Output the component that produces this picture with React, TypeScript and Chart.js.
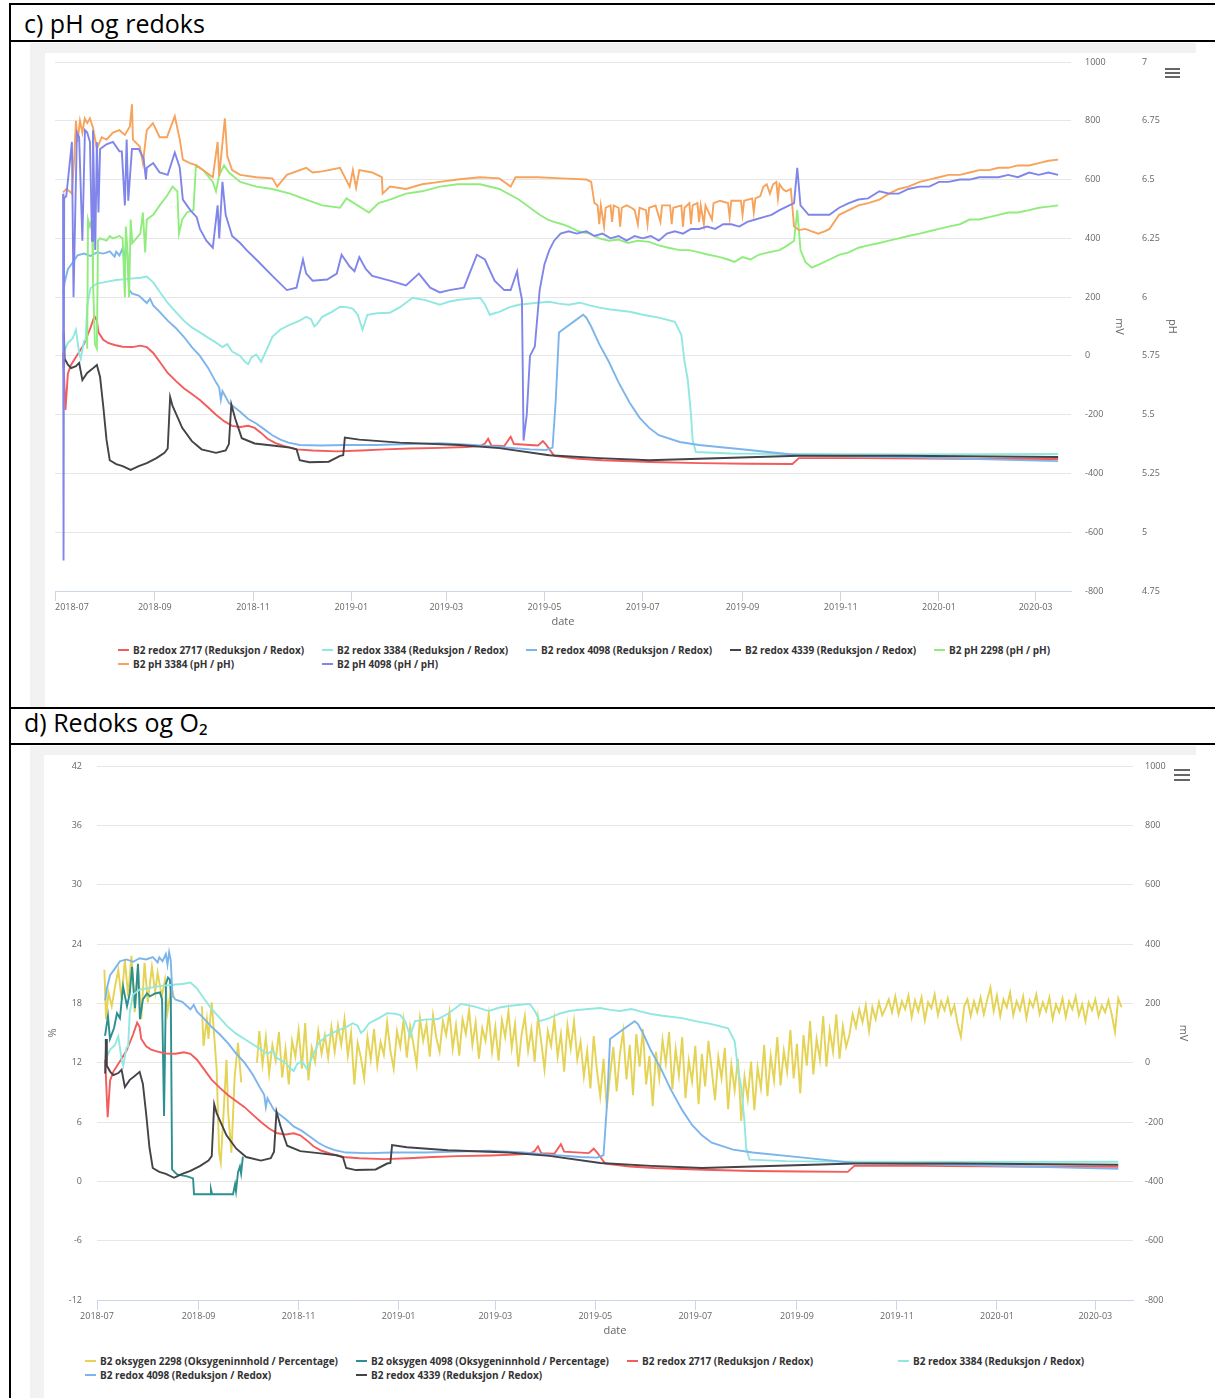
import React, { useEffect, useRef } from 'react';
import { Chart, registerables } from 'chart.js';

Chart.register(...registerables);
Chart.defaults.font.family = "'Open Sans', sans-serif";

type Pt = [number, number | null];

// x values are days since 2018-07-01
const START_UTC = Date.UTC(2018, 6, 1);
const xTickLabels = ['2018-07', '2018-09', '2018-11', '2019-01', '2019-03', '2019-05', '2019-07', '2019-09', '2019-11', '2020-01', '2020-03'];
const X_MAX_C = 631;
const X_MAX_D = 632;

// ---------- chart c) pH og redoks ----------
const redox2717: Pt[] = [[5,10],[6.5,-184],[8,-60],[10,-30],[14,5],[18,40],[22,95],[24.5,135],[26,120],[27,80],[30,55],[33,44],[37,37],[42,31],[48,30],[53,35],[57,30],[61,10],[65,-20],[70,-58],[75,-85],[80,-110],[85,-130],[90,-150],[95,-175],[100,-200],[105,-222],[110,-238],[115,-242],[120,-238],[124,-245],[128,-262],[132,-282],[137,-297],[142,-306],[150,-318],[160,-322],[175,-325],[190,-322],[205,-318],[220,-315],[240,-313],[255,-310],[264,-307],[267,-298],[269,-282],[271,-305],[279,-307],[283,-275],[285,-300],[300,-305],[303,-290],[305,-302],[310,-340],[325,-350],[340,-355],[370,-361],[400,-365],[430,-367],[458,-368],[462,-348],[500,-348],[560,-350],[623,-351]];

const redox3384: Pt[] = [[5,78],[6,20],[8,44],[11,60],[13,89],[15,10],[16,-10],[17,20],[18,50],[19,54],[20,170],[22,230],[26,246],[30,250],[38,258],[45,262],[53,266],[57,270],[61,250],[65,218],[70,180],[75,150],[80,120],[85,97],[90,80],[95,62],[100,45],[104,30],[107,40],[110,15],[115,0],[118,-20],[120,-28],[122,-5],[125,5],[128,-20],[131,15],[135,65],[140,90],[146,106],[152,120],[156,133],[159,125],[161,100],[163,110],[166,133],[172,150],[177,167],[182,165],[185,160],[188,140],[191,89],[194,140],[200,145],[208,147],[214,165],[218,181],[222,198],[230,190],[239,174],[245,185],[251,191],[258,195],[264,198],[267,175],[270,140],[273,145],[276,150],[282,165],[288,174],[298,180],[307,184],[313,178],[319,174],[326,181],[332,172],[338,164],[345,158],[357,150],[365,140],[375,130],[385,116],[389,72],[391,-20],[393,-82],[395,-200],[396,-286],[398,-327],[420,-332],[462,-334],[530,-335],[623,-334]];

const redox4098: Pt[] = [[5,210],[6,250],[8,295],[11,318],[14,342],[18,348],[22,340],[26,352],[30,348],[34,356],[37,338],[38,355],[40,342],[42,366],[43,330],[44,372],[45,345],[46,225],[48,212],[52,205],[55,190],[57,180],[59,195],[61,172],[65,150],[70,120],[75,95],[80,65],[85,30],[90,0],[95,-40],[100,-90],[102,-108],[103,-150],[104,-120],[108,-160],[115,-190],[120,-215],[125,-230],[130,-250],[135,-270],[140,-285],[145,-295],[152,-303],[165,-305],[180,-303],[200,-303],[220,-300],[239,-297],[260,-303],[276,-310],[295,-318],[305,-320],[309,-312],[311,-150],[313,80],[318,100],[323,120],[328,140],[330,130],[333,100],[338,40],[344,-20],[350,-90],[357,-160],[363,-210],[369,-245],[375,-270],[388,-293],[400,-303],[431,-320],[462,-338],[524,-344],[623,-358]];

const redox4339: Pt[] = [[5,-37],[5.5,80],[6,-10],[8,-30],[10,-42],[13,-35],[15,-24],[17,-82],[20,-58],[23,-45],[26,-31],[28,-72],[30,-173],[32,-286],[34,-355],[38,-368],[42,-375],[47,-388],[52,-375],[57,-365],[63,-348],[68,-330],[70,-315],[71.5,-140],[73,-170],[75,-195],[79,-245],[85,-290],[91,-318],[100,-330],[106,-322],[108,-300],[109.5,-165],[112,-215],[116,-280],[124,-298],[135,-305],[146,-312],[150,-318],[152,-355],[158,-362],[170,-360],[177,-340],[179,-338],[180,-278],[189,-285],[214,-295],[251,-303],[276,-314],[307,-338],[338,-348],[369,-355],[400,-350],[462,-340],[524,-340],[623,-344]];

const ph2298: Pt[] = [[20,5.78],[20.5,6.33],[21.7,6.30],[23,6.33],[23.6,6.07],[24.8,5.80],[26,5.78],[26.7,6.24],[28,6.25],[32,6.24],[34,6.26],[36,6.25],[40,6.26],[42,6.25],[43.4,6.00],[44,6.30],[45,6.20],[46,6.00],[47,6.33],[48,6.23],[53,6.27],[54.6,6.36],[56,6.19],[57,6.33],[61,6.35],[65,6.39],[69.5,6.43],[73,6.47],[76,6.45],[77,6.27],[79,6.33],[82,6.36],[86,6.37],[87.5,6.56],[92,6.54],[98,6.49],[100,6.45],[102,6.52],[105,6.56],[108,6.53],[115,6.49],[125,6.47],[135,6.46],[146,6.44],[156,6.415],[166,6.39],[177,6.38],[181,6.42],[195,6.36],[201,6.40],[208,6.415],[218,6.44],[228,6.45],[239,6.47],[250,6.48],[264,6.48],[276,6.46],[288,6.415],[301,6.35],[306,6.33],[310,6.32],[315,6.31],[319,6.30],[325,6.28],[332,6.27],[338,6.25],[344,6.24],[350,6.245],[356,6.23],[362,6.24],[369,6.235],[375,6.22],[381,6.21],[388,6.20],[394,6.20],[400,6.19],[406,6.18],[413,6.17],[418,6.16],[422,6.15],[427,6.17],[432,6.16],[437,6.18],[443,6.19],[450,6.20],[455,6.22],[459,6.24],[461,6.37],[463,6.20],[466,6.15],[470,6.125],[475,6.14],[481,6.16],[487,6.18],[493,6.19],[499,6.21],[505,6.22],[512,6.23],[518,6.24],[524,6.25],[530,6.26],[537,6.27],[543,6.28],[549,6.29],[555,6.30],[562,6.31],[568,6.33],[574,6.33],[580,6.34],[586,6.35],[592,6.36],[598,6.36],[605,6.37],[611,6.38],[617,6.385],[623,6.39]];

const ph3384: Pt[] = [[5,6.445],[7,6.46],[9,6.45],[10.5,6.44],[12,6.60],[13,6.75],[14,6.66],[15.5,6.75],[17,6.70],[18.5,6.76],[20,6.74],[21.7,6.76],[23.6,6.72],[26,6.63],[29,6.68],[32,6.67],[36,6.70],[40,6.71],[43.4,6.69],[46.5,6.726],[47.8,6.82],[48.4,6.67],[52.7,6.64],[54.6,6.57],[57,6.71],[60.8,6.74],[65,6.68],[69.5,6.68],[74.4,6.77],[77.5,6.67],[79.4,6.585],[83.7,6.57],[88,6.56],[94,6.53],[98,6.51],[101,6.66],[102,6.515],[105.5,6.76],[107,6.60],[110,6.54],[115,6.52],[125,6.51],[135,6.505],[138,6.47],[144,6.52],[156,6.55],[160,6.53],[166,6.535],[177,6.55],[183,6.47],[185,6.54],[187,6.465],[189,6.54],[197,6.53],[203,6.51],[203.5,6.44],[208,6.47],[218,6.46],[228,6.48],[239,6.49],[250,6.50],[264,6.51],[276,6.505],[283,6.47],[286,6.51],[300,6.51],[315,6.505],[330,6.50],[333,6.49],[335,6.40],[337,6.39],[338,6.31],[339,6.39],[341,6.30],[342,6.38],[345,6.39],[346,6.32],[347,6.39],[350,6.38],[351,6.30],[352,6.38],[355,6.39],[358,6.38],[360,6.37],[362,6.31],[363,6.38],[367,6.37],[368,6.31],[369,6.38],[373,6.39],[376,6.32],[377,6.39],[382,6.39],[383,6.31],[384,6.38],[389,6.39],[390,6.30],[391,6.38],[394,6.40],[395,6.31],[396,6.39],[399,6.40],[400,6.32],[401,6.39],[403,6.31],[404,6.39],[408,6.33],[409,6.40],[413,6.41],[418,6.40],[419,6.34],[420,6.41],[426,6.41],[427,6.35],[428,6.41],[433,6.42],[434,6.36],[435,6.42],[438,6.43],[440,6.47],[442,6.48],[444,6.44],[446,6.48],[448,6.49],[449,6.42],[450,6.48],[452,6.46],[454,6.45],[457,6.46],[459,6.30],[462,6.285],[466,6.29],[470,6.28],[474,6.27],[478,6.28],[481,6.29],[484,6.32],[487,6.35],[493,6.37],[499,6.39],[505,6.40],[512,6.415],[518,6.44],[524,6.46],[530,6.47],[537,6.49],[543,6.50],[549,6.51],[555,6.52],[562,6.52],[568,6.53],[574,6.54],[580,6.54],[586,6.55],[592,6.55],[598,6.56],[605,6.56],[611,6.57],[617,6.58],[623,6.585]];

const ph4098: Pt[] = [[5,6.44],[5.3,4.88],[5.7,6.42],[7,6.43],[9,6.56],[10.5,6.66],[11.5,6.0],[13.6,6.70],[15,6.68],[17,6.24],[18.6,6.71],[20,6.70],[21.7,6.66],[23,6.24],[23.6,6.71],[25,6.20],[26,6.66],[27,6.36],[28,6.63],[32,6.65],[36,6.66],[40,6.62],[41.5,6.62],[43.4,6.39],[44.5,6.67],[45.5,6.41],[47.8,6.63],[52,6.63],[55,6.59],[56.5,6.50],[57,6.55],[61,6.57],[65,6.53],[70,6.52],[74.4,6.615],[77.5,6.55],[79.4,6.415],[84,6.37],[88,6.34],[90,6.29],[94,6.24],[98,6.21],[101,6.39],[102,6.25],[104,6.49],[106,6.35],[110,6.26],[115,6.23],[119,6.20],[125,6.16],[135,6.09],[144,6.03],[150,6.04],[154,6.16],[156,6.10],[160,6.07],[169,6.075],[175,6.10],[178,6.18],[183,6.13],[186,6.11],[189,6.17],[193,6.12],[197,6.09],[208,6.07],[218,6.05],[226,6.10],[233,6.04],[239,6.02],[245,6.03],[254,6.04],[262,6.18],[267,6.16],[273,6.07],[279,6.03],[283,6.03],[287,6.11],[288,6.06],[290,5.99],[291,5.39],[293,5.50],[295,5.75],[298,5.79],[301,6.03],[304,6.14],[307,6.20],[310,6.24],[314,6.27],[319,6.28],[324,6.27],[330,6.28],[335,6.26],[340,6.27],[345,6.25],[350,6.26],[355,6.24],[360,6.26],[365,6.25],[370,6.26],[375,6.24],[380,6.27],[385,6.28],[390,6.27],[395,6.29],[400,6.29],[405,6.30],[410,6.29],[415,6.31],[420,6.31],[425,6.30],[430,6.32],[435,6.33],[440,6.34],[445,6.35],[450,6.37],[456,6.39],[459,6.40],[461,6.55],[463,6.39],[468,6.35],[474,6.35],[481,6.35],[487,6.38],[493,6.40],[499,6.415],[505,6.42],[512,6.45],[518,6.44],[524,6.44],[530,6.46],[537,6.47],[543,6.47],[549,6.49],[555,6.49],[562,6.50],[568,6.50],[574,6.51],[580,6.51],[586,6.51],[592,6.52],[598,6.51],[605,6.53],[611,6.52],[617,6.53],[623,6.52]];

// ---------- chart d) Redoks og O2 ----------
const oksygen2298: Pt[] = [[4.5,21.4],[5.5,16.4],[7,19.1],[9,17.7],[11,19.7],[13,21.4],[15,18.4],[17,22.4],[19,18.7],[21,22.8],[23,17.1],[25,21.7],[27,16.4],[29,22.1],[31,18.1],[33.5,21.7],[35.5,19.1],[37,21.1],[39.5,18.7],[41.5,20.4],[43,17.1],[45.5,19.7],[47,18.5],[55,null],[64,17.7],[65,13.7],[67,16.4],[68,14.4],[70,18.1],[71.5,14.7],[73,11.3],[74.5,2.9],[75.5,1.9],[77,6.3],[79,12.3],[80,7],[82,2.9],[84,10.6],[86,14],[88,10],[92,null],
[97.6,12],[99,15.2],[101,11.8],[103,14.6],[105,10.9],[107,13.8],[109,12.2],[111,15.1],[113,10.5],[115,13.4],[117,9.8],[119,14.2],[121,12.6],[123,15.3],[125,11.4],[127,16],[129,10.2],[131,13.5],[133,12.1],[135,15.2],[137,12.9],[139,14.8],[141,12.5],[143,15.6],[145,13.1],[147,15.8],[149,13.8],[151,16.4],[153,12.7],[155,15],[157,9.8],[159,14],[161,12.5],[163,10.4],[165,14.6],[167,12.3],[169,15.4],[171,11.7],[173,14.1],[175,12.8],[177,16.1],[179,13.2],[181,11.4],[183,15.2],[185,13.6],[187,16.3],[189,12.5],[191,15.7],[193,13.9],[195,11.8],[197,16.5],[199,14.2],[201,15.9],[203,12.6],[205,16.8],[207,14.5],[209,13.1],[211,16.2],[213,14.8],[215,17.1],[217,13.4],[219,15.8],[221,12.7],[223,16.4],[225,14.9],[227,17.3],[229,13.8],[231,16.1],[233,12.4],[235,15.5],[237,14.2],[239,16.9],[241,13.1],[243,15.6],[245,12.2],[247,16.3],[249,14.6],[251,17.2],[253,13.5],[255,15.9],[257,11.6],[259,14.8],[261,16.7],[263,13.2],[265,15.4],[267,12.1],[269,16.6],[271,14.1],[273,11.3],[275,15.2],[277,13.7],[279,16.4],[281,12.6],[283,14.9],[285,11.1],[287,15.8],[289,13.4],[291,16.2],[293,12.3],[295,14.1],[297,10.6],[299,13.2],[301,9.4],[303,14.7],[305,11.2],[307,8.6],[309,12.4],[311,7.4],[313,10.8],[315,13.6],[317,9.1],[319,12.9],[321,15.2],[323,10.3],[325,13.8],[327,8.7],[329,14.9],[331,11.6],[333,15.4],[335,9.8],[337,12.7],[339,7.6],[341,13.1],[343,10.4],[345,14.3],[347,11.9],[349,15.1],[351,9.3],[353,13.4],[355,10.7],[357,14.6],[359,8.4],[361,12.2],[363,10.1],[365,13.7],[367,7.8],[369,12.9],[371,9.6],[373,14.2],[375,11.3],[377,8.2],[379,12.6],[381,10.4],[383,13.5],[385,7.3],[387,11.8],[389,9.2],[391,12.4],[393,6.1],[395,10.6],[397,8.3],[399,12.1],[401,7.2],[403,11.5],[405,9.4],[407,13.8],[409,8.6],[411,12.7],[413,10.2],[415,14.6],[417,9.7],[419,13.2],[421,11.1],[423,15.3],[425,10.4],[427,13.9],[429,8.9],[431,14.8],[433,11.7],[435,16.2],[437,10.8],[439,14.4],[441,12.3],[443,16.7],[445,11.6],[447,15.3],[449,13.1],[451,16.9],[453,12.4],[455,15.7],[457,13.6],[459,14.8],[461,16.9],[463,15.6],[465,17.4],[467,16.1],[469,17.8],[471,15.2],[473,17.6],[475,16.4],[477,18.1],[479,16.8],[481,17.5],[483,18.4],[485,17.1],[487,18.7],[489,16.9],[491,18.2],[493,17.4],[495,18.8],[497,16.6],[499,18.3],[501,17.2],[503,18.6],[505,16.3],[507,18.1],[509,17.5],[511,18.9],[513,16.8],[515,18.2],[517,17.3],[519,18.5],[521,16.9],[523,17.8],[525,15.9],[527,14.6],[529,17.7],[531,18.4],[533,16.7],[535,18.2],[537,17.1],[539,18.6],[541,16.9],[543,18.3],[545,19.6],[547,17.2],[549,18.8],[551,16.7],[553,18.4],[555,17.6],[557,19.1],[559,16.8],[561,18.2],[563,17.3],[565,18.7],[567,16.5],[569,18.3],[571,17.6],[573,18.9],[575,16.9],[577,18.1],[579,17.2],[581,18.6],[583,16.4],[585,17.9],[587,17.1],[589,18.5],[591,16.6],[593,18.2],[595,17.4],[597,18.7],[599,16.8],[601,17.9],[603,16.2],[605,18.1],[607,17.3],[609,18.4],[611,16.7],[613,17.8],[615,17.1],[617,18.3],[619,16.9],[621,15.1],[623,18.5],[625,17.6]];

const oksygen4098: Pt[] = [[4.9,14.7],[6.7,16.7],[7.9,14.4],[10.4,15.5],[12.2,17],[14,16.5],[15.9,19.7],[18.3,17.7],[20,19],[21.4,21.7],[23.2,17.5],[25,22],[26.2,16.4],[28,18.4],[30.5,19],[32.3,18.7],[35.4,19],[38.4,19.1],[39.7,18.4],[40.9,6.6],[42.1,20],[43.3,20.6],[44.5,20.4],[45,19],[45.8,1.2],[48.8,0.7],[55,0.5],[58.6,0.3],[59.2,-1.3],[69,-1.3],[69.5,-0.8],[70.2,-1.3],[83,-1.3],[84.2,-0.3],[84.8,-1.0],[86,0.9],[87.2,1.5],[87.9,0.8],[89,2.5]];

const COLORS = {
  red: '#f45b5b', cyan: '#91e8e1', blue: '#7cb5ec', dark: '#434348',
  green: '#90ed7d', orange: '#f7a35c', purple: '#8085e9', yellow: '#e4d354', teal: '#2b908f',
};

const legendC = [
  { label: 'B2 redox 2717 (Reduksjon / Redox)', color: COLORS.red },
  { label: 'B2 redox 3384 (Reduksjon / Redox)', color: COLORS.cyan },
  { label: 'B2 redox 4098 (Reduksjon / Redox)', color: COLORS.blue },
  { label: 'B2 redox 4339 (Reduksjon / Redox)', color: COLORS.dark },
  { label: 'B2 pH 2298 (pH / pH)', color: COLORS.green },
  { label: 'B2 pH 3384 (pH / pH)', color: COLORS.orange },
  { label: 'B2 pH 4098 (pH / pH)', color: COLORS.purple },
];
const legendD = [
  { label: 'B2 oksygen 2298 (Oksygeninnhold / Percentage)', color: COLORS.yellow },
  { label: 'B2 oksygen 4098 (Oksygeninnhold / Percentage)', color: COLORS.teal },
  { label: 'B2 redox 2717 (Reduksjon / Redox)', color: COLORS.red },
  { label: 'B2 redox 3384 (Reduksjon / Redox)', color: COLORS.cyan },
  { label: 'B2 redox 4098 (Reduksjon / Redox)', color: COLORS.blue },
  { label: 'B2 redox 4339 (Reduksjon / Redox)', color: COLORS.dark },
];

const monthToDay = (label: string) => {
  const [y, m] = label.split('-').map(Number);
  return Math.round((Date.UTC(y, m - 1, 1) - START_UTC) / 86400000);
};

const TICK_FONT = { size: 9 };
const TITLE_FONT = { size: 11 };
const GRAY = '#666666';
const CLEAR = 'rgba(0,0,0,0)';

function xScale(maxDay: number, innerFirst: boolean, height: number) {
  const tickDays = xTickLabels.map(monthToDay);
  const all = innerFirst ? [...tickDays, maxDay] : tickDays;
  return {
    type: 'linear', min: 0, max: maxDay,
    afterBuildTicks: (s: any) => { s.ticks = all.map((v) => ({ value: v })); },
    afterFit: (s: any) => { s.height = height; },
    ticks: {
      autoSkip: false, maxRotation: 0, minRotation: 0, padding: 1,
      align: innerFirst ? 'inner' : 'center',
      color: GRAY, font: TICK_FONT,
      callback: (v: number) => { const i = tickDays.indexOf(v); return i >= 0 ? xTickLabels[i] : ''; },
    },
    grid: {
      drawOnChartArea: false, drawTicks: true, tickLength: 10, color: '#ccd6eb',
      tickColor: (ctx: any) => (ctx.tick && tickDays.includes(ctx.tick.value) ? '#ccd6eb' : CLEAR),
    },
    border: { display: true, color: '#ccd6eb', width: 1 },
    title: { display: true, text: 'date', color: GRAY, font: TITLE_FONT, padding: 0 },
  };
}

// label offset from the plot edge is done with an invisible tick mark so that it does not add top padding
function yScale(opts: { position: string; min: number; max: number; step: number; grid: boolean; gap: number; title: string; titlePad: number; width: number }) {
  return {
    type: 'linear', position: opts.position, min: opts.min, max: opts.max,
    afterFit: (s: any) => { s.width = opts.width; },
    ticks: { stepSize: opts.step, padding: 0, color: GRAY, font: TICK_FONT, autoSkip: false, callback: (v: number) => String(v) },
    grid: { display: true, drawOnChartArea: opts.grid, drawTicks: true, tickLength: opts.gap, tickColor: CLEAR, color: '#e6e6e6', lineWidth: 1 },
    border: { display: false },
    title: { display: true, text: opts.title, color: GRAY, font: TITLE_FONT, padding: { top: opts.titlePad, bottom: 0 } },
  };
}

const line = (label: string, data: Pt[], color: string, yAxisID: string, order: number) => ({
  label, data: data.map(([x, y]) => ({ x, y })), borderColor: color, backgroundColor: color,
  borderWidth: 1.9, pointRadius: 0, pointHoverRadius: 0, tension: 0, fill: false, yAxisID, order, spanGaps: false,
});

function configC(): any {
  const series: [Pt[], string, string][] = [
    [redox2717, COLORS.red, 'mv'], [redox3384, COLORS.cyan, 'mv'], [redox4098, COLORS.blue, 'mv'], [redox4339, COLORS.dark, 'mv'],
    [ph2298, COLORS.green, 'ph'], [ph3384, COLORS.orange, 'ph'], [ph4098, COLORS.purple, 'ph'],
  ];
  return {
    type: 'line',
    data: { datasets: series.map(([d, c, ax], i) => line(legendC[i].label, d, c, ax, series.length - i)) },
    options: {
      animation: false, responsive: false, events: [],
      layout: { padding: { top: 10, left: 10, right: 15, bottom: 2 } },
      plugins: { legend: { display: false }, tooltip: { enabled: false } },
      scales: {
        x: xScale(X_MAX_C, true, 37),
        mv: yScale({ position: 'right', min: -800, max: 1000, step: 200, grid: true, gap: 14, title: 'mV', titlePad: 2, width: 57 }),
        ph: yScale({ position: 'right', min: 4.75, max: 7, step: 0.25, grid: false, gap: 14, title: 'pH', titlePad: 2, width: 53 }),
      },
    },
  };
}

function configD(): any {
  const series: [Pt[], string, string][] = [
    [oksygen2298, COLORS.yellow, 'pct'], [oksygen4098, COLORS.teal, 'pct'],
    [redox2717, COLORS.red, 'mv'], [redox3384, COLORS.cyan, 'mv'], [redox4098, COLORS.blue, 'mv'], [redox4339, COLORS.dark, 'mv'],
  ];
  return {
    type: 'line',
    data: { datasets: series.map(([d, c, ax], i) => line(legendD[i].label, d, c, ax, series.length - i)) },
    options: {
      animation: false, responsive: false, events: [],
      layout: { padding: { top: 11, left: 0, right: 3, bottom: 3 } },
      plugins: { legend: { display: false }, tooltip: { enabled: false } },
      scales: {
        x: xScale(X_MAX_D, false, 37),
        pct: yScale({ position: 'left', min: -12, max: 42, step: 6, grid: true, gap: 15, title: '%', titlePad: 1, width: 52 }),
        mv: yScale({ position: 'right', min: -800, max: 1000, step: 200, grid: false, gap: 12, title: 'mV', titlePad: 3, width: 60 }),
      },
    },
  };
}

function ChartCanvas({ make, left, top, width, height }: { make: () => any; left: number; top: number; width: number; height: number }) {
  const ref = useRef<HTMLCanvasElement>(null);
  useEffect(() => {
    const chart = new Chart(ref.current as HTMLCanvasElement, make());
    return () => chart.destroy();
  }, []);
  return <canvas ref={ref} width={width} height={height} style={{ position: 'absolute', left, top, width, height }} />;
}

function Legend({ items, x0, dx, y0, dy, cols }: { items: { label: string; color: string }[]; x0: number; dx: number; y0: number; dy: number; cols: number }) {
  return (
    <>
      {items.map((it, i) => (
        <div key={i} style={{ position: 'absolute', left: x0 + (i % cols) * dx, top: y0 + Math.floor(i / cols) * dy - 7, height: 14, display: 'flex', alignItems: 'center', whiteSpace: 'nowrap', fontFamily: "'Open Sans', sans-serif", fontWeight: 700, fontSize: 10, color: '#333333' }}>
          <span style={{ display: 'inline-block', width: 11, height: 2, background: it.color, marginRight: 4 }} />
          <span>{it.label}</span>
        </div>
      ))}
    </>
  );
}

function Menu({ left, top, w, h }: { left: number; top: number; w: number; h: number }) {
  const bar = { position: 'absolute' as const, left: 0, width: w, height: 2, background: '#666' };
  return (
    <div style={{ position: 'absolute', left, top, width: w, height: h }}>
      <div style={{ ...bar, top: 0 }} />
      <div style={{ ...bar, top: (h - 2) / 2 }} />
      <div style={{ ...bar, top: h - 2 }} />
    </div>
  );
}

export default function App() {
  const abs = (l: number, t: number, w: number, h: number, bg: string) => ({ position: 'absolute' as const, left: l, top: t, width: w, height: h, background: bg });
  const header = { position: 'absolute' as const, left: 24, fontFamily: "'Open Sans', sans-serif", fontSize: 25, lineHeight: '34px', color: '#000', whiteSpace: 'nowrap' as const };
  return (
    <div style={{ position: 'absolute', left: 0, top: 0, width: 1215, height: 1398, overflow: 'hidden', background: '#fff' }}>
      <div style={abs(30, 43, 1166, 665, '#f2f2f2')} />
      <div style={abs(45, 53, 1151, 655, '#ffffff')} />
      <div style={abs(30, 746, 1166, 652, '#f2f2f2')} />
      <div style={abs(44, 755, 1152, 643, '#ffffff')} />

      <ChartCanvas make={configC} left={45} top={52} width={1151} height={578} />
      <ChartCanvas make={configD} left={45} top={755} width={1151} height={585} />

      <Legend items={legendC} x0={118} dx={204} y0={650} dy={13.5} cols={5} />
      <Legend items={legendD} x0={85} dx={271} y0={1361} dy={13.5} cols={4} />

      <Menu left={1165} top={68} w={15} h={10} />
      <Menu left={1174} top={769} w={16} h={12} />

      <div style={abs(9, 3, 1206, 2, '#000')} />
      <div style={abs(9, 3, 2, 1395, '#000')} />
      <div style={abs(9, 40, 1206, 2, '#000')} />
      <div style={abs(9, 707, 1206, 2, '#000')} />
      <div style={abs(9, 743, 1206, 2, '#000')} />

      <div style={{ ...header, top: 6 }}>c) pH og redoks</div>
      <div style={{ ...header, top: 705 }}>d) Redoks og O₂</div>
    </div>
  );
}
